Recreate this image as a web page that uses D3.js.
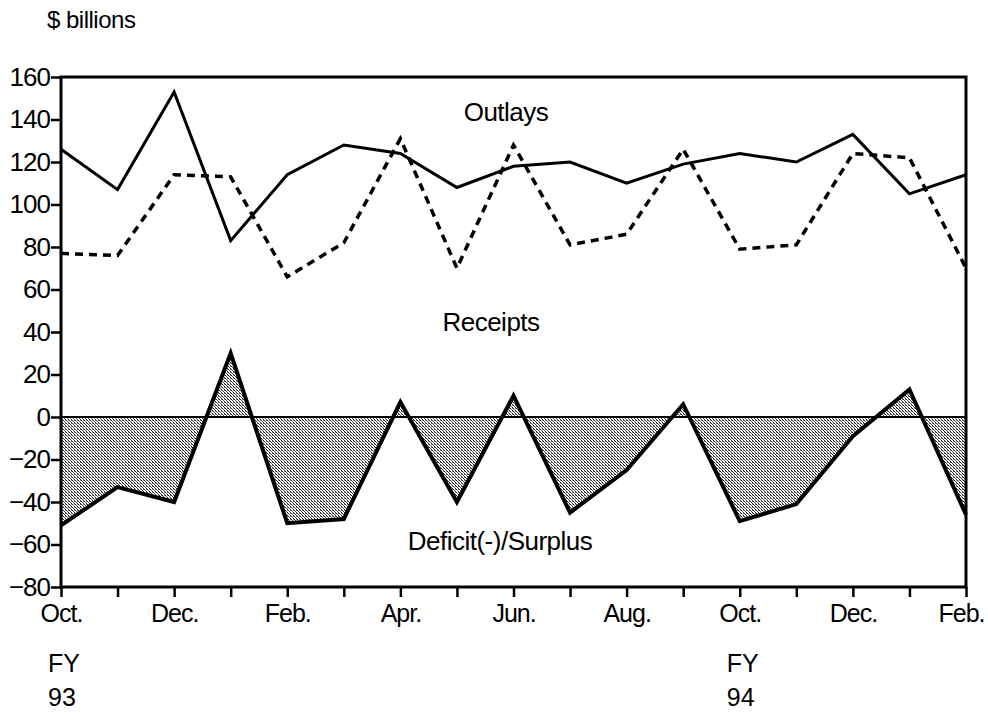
<!DOCTYPE html>
<html>
<head>
<meta charset="utf-8">
<script src="https://cdn.jsdelivr.net/npm/d3@7"></script>
<style>
  body { margin: 0; background: #fff; }
  text { font-family: "Liberation Sans", Arial, sans-serif; fill: #000; }
</style>
</head>
<body>
<div id="chart"></div>
<script>
// monthly values, Oct. FY93 .. Feb. FY95
let months = ["Oct.", "Nov.", "Dec.", "Jan.", "Feb.", "Mar.", "Apr.", "May", "Jun.", "Jul.", "Aug.", "Sep.",
              "Oct.", "Nov.", "Dec.", "Jan.", "Feb."];
let outlays  = [126, 107, 153, 83, 114, 128, 124, 108, 118, 120, 110, 119, 124, 120, 133, 105, 114];
let receipts = [77, 76, 114, 113, 66, 82, 131, 70, 128, 81, 86, 126, 79, 81, 124, 122, 70];
let deficit  = [-51, -33, -40, 30, -50, -48, 7, -40, 10, -45, -25, 6, -49, -41, -9, 13, -46];
let yTicks = [160, 140, 120, 100, 80, 60, 40, 20, 0, -20, -40, -60, -80];
let fyLabels = [{ i: 0, top: "FY", bottom: "93" }, { i: 12, top: "FY", bottom: "94" }];

let svgWidth = 988;
let svgHeight = 723;
let svg = d3.select("#chart").append("svg")
    .attr("width", svgWidth)
    .attr("height", svgHeight);

let plotLeft = 61, plotRight = 966, plotTop = 77, plotBottom = 587;

let x = d3.scaleLinear().domain([0, months.length - 1]).range([plotLeft, plotRight]);
let y = d3.scaleLinear().domain([-80, 160]).range([plotBottom, plotTop]);

// stipple pattern for the deficit area
let defs = svg.append("defs");
let pat = defs.append("pattern")
    .attr("id", "stipple")
    .attr("width", 3).attr("height", 3)
    .attr("patternUnits", "userSpaceOnUse");
pat.append("rect").attr("width", 3).attr("height", 3).attr("fill", "#fff");
pat.append("rect").attr("x", 0).attr("y", 0).attr("width", 1).attr("height", 1).attr("fill", "#222");
pat.append("rect").attr("x", 1).attr("y", 1).attr("width", 1).attr("height", 1).attr("fill", "#555");
pat.append("rect").attr("x", 2).attr("y", 2).attr("width", 1).attr("height", 1).attr("fill", "#222");
pat.append("rect").attr("x", 2).attr("y", 0).attr("width", 1).attr("height", 1).attr("fill", "#888");

// deficit area
let area = d3.area()
    .x(function (d, i) { return x(i); })
    .y0(y(0))
    .y1(function (d) { return y(d); });
svg.append("path")
    .attr("d", area(deficit))
    .attr("fill", "url(#stipple)")
    .attr("stroke", "none");

// zero line
svg.append("line")
    .attr("x1", plotLeft).attr("x2", plotRight)
    .attr("y1", y(0)).attr("y2", y(0))
    .attr("stroke", "#000").attr("stroke-width", 2);

let line = d3.line()
    .x(function (d, i) { return x(i); })
    .y(function (d) { return y(d); });

svg.append("path")
    .attr("d", line(deficit))
    .attr("fill", "none")
    .attr("stroke", "#000")
    .attr("stroke-width", 4)
    .attr("stroke-linejoin", "miter");

svg.append("path")
    .attr("d", line(receipts))
    .attr("fill", "none")
    .attr("stroke", "#000")
    .attr("stroke-width", 3.5)
    .attr("stroke-dasharray", "8,6");

svg.append("path")
    .attr("d", line(outlays))
    .attr("fill", "none")
    .attr("stroke", "#000")
    .attr("stroke-width", 3);

// frame
svg.append("rect")
    .attr("x", plotLeft).attr("y", plotTop)
    .attr("width", plotRight - plotLeft).attr("height", plotBottom - plotTop)
    .attr("fill", "none")
    .attr("stroke", "#000")
    .attr("stroke-width", 3);

// y axis
let yAxis = d3.axisLeft(y)
    .tickValues(yTicks)
    .tickSize(10)
    .tickPadding(1)
    .tickFormat(d3.format("d"));
let gy = svg.append("g")
    .attr("transform", "translate(" + plotLeft + ",0)")
    .call(yAxis);
gy.select(".domain").remove();
gy.selectAll(".tick line").attr("stroke-width", 2.5);
gy.selectAll(".tick text")
    .style("font-size", "26px")
    .style("letter-spacing", "-1px")
    .attr("fill", "#000");

// x axis
let xAxis = d3.axisBottom(x)
    .tickValues(d3.range(months.length))
    .tickSize(10)
    .tickPadding(7)
    .tickFormat(function (d) { return d % 2 === 0 ? months[d] : ""; });
let gx = svg.append("g")
    .attr("transform", "translate(0," + plotBottom + ")")
    .call(xAxis);
gx.select(".domain").remove();
gx.selectAll(".tick line").attr("stroke-width", 2.5);
gx.selectAll(".tick text")
    .style("font-size", "25px")
    .style("letter-spacing", "-1px")
    .attr("fill", "#000")
    .attr("dx", function (d) { return d === months.length - 1 ? -5 : 0; });

// series labels
svg.append("text").attr("x", 506).attr("y", 121).attr("text-anchor", "middle")
    .style("font-size", "26px").style("letter-spacing", "-0.5px").text("Outlays");
svg.append("text").attr("x", 491).attr("y", 331).attr("text-anchor", "middle")
    .style("font-size", "26px").style("letter-spacing", "-0.5px").text("Receipts");
svg.append("text").attr("x", 500).attr("y", 550).attr("text-anchor", "middle")
    .style("font-size", "26px").style("letter-spacing", "-0.5px").text("Deficit(-)/Surplus");

// unit label
svg.append("text").attr("x", 47).attr("y", 28)
    .style("font-size", "24px").style("letter-spacing", "-0.5px").text("$ billions");

// fiscal year labels
fyLabels.forEach(function (f) {
    svg.append("text").attr("x", x(f.i) - 13).attr("y", 672)
        .style("font-size", "25px").text(f.top);
    svg.append("text").attr("x", x(f.i) - 13).attr("y", 706)
        .style("font-size", "25px").text(f.bottom);
});
</script>
</body>
</html>
